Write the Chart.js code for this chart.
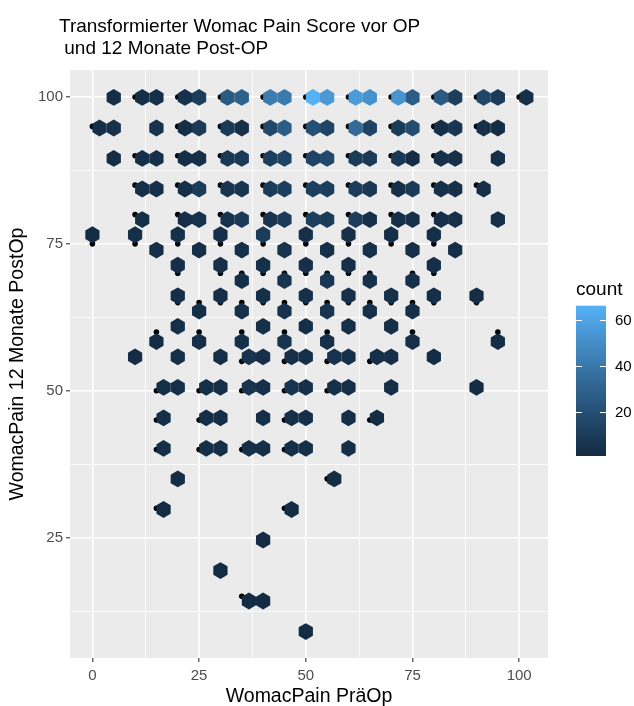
<!DOCTYPE html>
<html>
<head>
<meta charset="utf-8">
<script src="https://cdn.jsdelivr.net/npm/chart.js@4.4.1/dist/chart.umd.min.js"></script>
<style>
  html, body { margin: 0; padding: 0; background: #ffffff; }
  #wrap { width: 634px; height: 706px; }
</style>
</head>
<body>
<div id="wrap"><canvas id="hexChart" width="634" height="706"></canvas></div>
<script>
// --- Hex-Bins: Zeilen (y-Mitte), x-Mitten und Anzahl je Zeile ---
const hexRowY = [99.93, 94.73, 89.54, 84.34, 79.14, 76.55, 73.95, 71.36, 68.75, 66.16,
                 63.55, 60.96, 58.36, 55.77, 50.57, 45.37, 40.18, 34.98, 29.78, 24.59,
                 19.39, 14.2, 9.0];
const hexRowX = [
  [5, 11.67, 15, 21.67, 25, 31.67, 35, 41.67, 45, 51.67, 55, 61.67, 65, 71.67, 75, 81.67, 85, 91.67, 95, 101.67],
  [1.67, 5, 15, 21.67, 25, 31.67, 35, 41.67, 45, 51.67, 55, 61.67, 65, 71.67, 75, 81.67, 85, 91.67, 95],
  [5, 11.67, 15, 21.67, 25, 31.67, 35, 41.67, 45, 51.67, 55, 61.67, 65, 71.67, 75, 81.67, 85, 95],
  [11.67, 15, 21.67, 25, 31.67, 35, 41.67, 45, 51.67, 55, 61.67, 65, 71.67, 75, 81.67, 85, 91.67],
  [11.67, 21.67, 25, 31.67, 35, 41.67, 45, 51.67, 55, 61.67, 65, 71.67, 75, 81.67, 85, 95],
  [0, 10, 20, 30, 40, 50, 60, 70, 80],
  [15, 25, 35, 45, 55, 65, 75, 85],
  [20, 30, 40, 50, 60, 80],
  [35, 45, 55, 65, 75],
  [20, 30, 40, 50, 60, 70, 80, 90],
  [25, 35, 45, 55, 65, 75],
  [20, 40, 50, 60, 70],
  [15, 25, 35, 45, 55, 75, 95],
  [10, 20, 30, 36.67, 40, 46.67, 50, 56.67, 60, 66.67, 70, 80],
  [16.67, 20, 26.67, 30, 36.67, 40, 46.67, 50, 56.67, 60, 70, 90],
  [16.67, 26.67, 30, 40, 46.67, 50, 60, 66.67],
  [16.67, 26.67, 30, 36.67, 40, 46.67, 50, 60],
  [20, 56.67],
  [16.67, 46.67],
  [40],
  [30],
  [36.67, 40],
  [50]
];
const hexRowCount = [
  [3, 3, 4, 5, 11, 25, 29, 42, 41, 66, 55, 56, 52, 53, 27, 26, 11, 16, 9, 4],
  [3, 4, 5, 3, 9, 9, 4, 16, 27, 20, 14, 34, 14, 10, 19, 4, 7, 4, 2],
  [2, 3, 4, 3, 4, 8, 9, 12, 14, 14, 17, 10, 9, 8, 2, 4, 4, 3],
  [3, 4, 3, 10, 6, 6, 10, 12, 12, 11, 11, 8, 3, 9, 4, 4, 3],
  [3, 3, 5, 5, 9, 6, 9, 12, 10, 11, 4, 3, 4, 3, 4, 3],
  [2, 3, 4, 4, 10, 4, 4, 3, 3],
  [3, 3, 4, 6, 4, 4, 4, 3],
  [3, 4, 4, 4, 4, 3],
  [3, 6, 7, 4, 3],
  [3, 3, 4, 4, 4, 4, 3, 2],
  [3, 4, 5, 6, 4, 3],
  [3, 4, 3, 3, 3],
  [2, 3, 3, 6, 3, 3, 2],
  [2, 3, 3, 6, 4, 4, 4, 5, 4, 3, 3, 2],
  [3, 3, 3, 3, 6, 4, 6, 4, 4, 3, 3, 2],
  [3, 3, 3, 3, 3, 3, 3, 2],
  [3, 3, 3, 3, 3, 3, 3, 3],
  [2, 2],
  [2, 2],
  [1],
  [1],
  [1, 1],
  [1]
];

// --- Rohdaten-Punkte (schwarz, unter den Hexagons) ---
const dotRowY = [100, 95, 90, 85, 80, 75, 70, 65, 60, 55, 50, 45, 40, 35, 30, 15];
const dotRowX = [
  [10, 20, 30, 40, 50, 60, 70, 80, 90, 100],
  [0, 20, 30, 40, 50, 60, 70, 80, 90],
  [10, 20, 30, 40, 50, 60, 70, 80],
  [10, 20, 30, 40, 50, 60, 70, 80, 90],
  [10, 20, 30, 40, 50, 60, 70, 80],
  [0, 10, 20, 30, 40, 50, 60, 70, 80],
  [20, 30, 35, 40, 45, 50, 55, 60, 65, 75, 80],
  [20, 25, 30, 35, 40, 45, 50, 55, 60, 65, 70, 75, 80, 90],
  [15, 25, 35, 45, 55, 75, 95],
  [35, 45, 55, 65],
  [15, 25, 35, 45, 55],
  [15, 25, 45, 65],
  [15, 25, 35, 45],
  [55],
  [15, 45],
  [35]
];

// --- Achsen / Legende ---
const xMajor = [0, 25, 50, 75, 100];
const xMinor = [12.5, 37.5, 62.5, 87.5];
const yMajor = [25, 50, 75, 100];
const yMinor = [12.5, 37.5, 62.5, 87.5];
const legendTicks = [20, 40, 60];

const FONT = "'Liberation Sans', Arial, sans-serif";
const LOW = '#132B43', HIGH = '#56B1F7';
const HEX_HALF_W = 5 / 3;   // halbe Bin-Breite in x
const HEX_HALF_H = 1.43;    // halbe Hoehe in y

// --- Daten fuer Chart.js ---
const hexPoints = [];
const hexCounts = [];
hexRowY.forEach((y, r) => {
  hexRowX[r].forEach((x, i) => {
    hexPoints.push({ x: x, y: y });
    hexCounts.push(hexRowCount[r][i]);
  });
});
const dotPoints = [];
dotRowY.forEach((y, r) => dotRowX[r].forEach(x => dotPoints.push({ x: x, y: y })));

const countMin = Math.min(...hexCounts);
const countMax = Math.max(...hexCounts);

// --- Farbverlauf in Lab (wie ggplot) ---
function hexToRgb(h) {
  const n = parseInt(h.slice(1), 16);
  return [(n >> 16) & 255, (n >> 8) & 255, n & 255];
}
function rgbToLab(rgb) {
  const f = c => { c /= 255; return c <= 0.04045 ? c / 12.92 : Math.pow((c + 0.055) / 1.055, 2.4); };
  const R = f(rgb[0]), G = f(rgb[1]), B = f(rgb[2]);
  let X = (R * 0.4124 + G * 0.3576 + B * 0.1805) / 0.95047;
  let Y = (R * 0.2126 + G * 0.7152 + B * 0.0722);
  let Z = (R * 0.0193 + G * 0.1192 + B * 0.9505) / 1.08883;
  const g = t => t > 0.008856 ? Math.cbrt(t) : 7.787 * t + 16 / 116;
  X = g(X); Y = g(Y); Z = g(Z);
  return [116 * Y - 16, 500 * (X - Y), 200 * (Y - Z)];
}
function labToRgb(lab) {
  let Y = (lab[0] + 16) / 116, X = lab[1] / 500 + Y, Z = Y - lab[2] / 200;
  const h = t => t * t * t > 0.008856 ? t * t * t : (t - 16 / 116) / 7.787;
  X = h(X) * 0.95047; Y = h(Y); Z = h(Z) * 1.08883;
  const R = X * 3.2406 + Y * -1.5372 + Z * -0.4986;
  const G = X * -0.9689 + Y * 1.8758 + Z * 0.0415;
  const B = X * 0.0557 + Y * -0.2040 + Z * 1.0570;
  const k = c => {
    c = c > 0.0031308 ? 1.055 * Math.pow(c, 1 / 2.4) - 0.055 : 12.92 * c;
    return Math.round(Math.min(1, Math.max(0, c)) * 255);
  };
  return [k(R), k(G), k(B)];
}
const labLow = rgbToLab(hexToRgb(LOW));
const labHigh = rgbToLab(hexToRgb(HIGH));
function countColor(v) {
  const t = Math.min(1, Math.max(0, (v - countMin) / (countMax - countMin)));
  const c = labToRgb(labLow.map((a, i) => a + (labHigh[i] - a) * t));
  return `rgb(${c[0]},${c[1]},${c[2]})`;
}

// --- Plugins ---
const panelBg = {
  id: 'panelBg',
  beforeDraw(chart) {
    const { ctx, chartArea: a } = chart;
    ctx.save();
    ctx.fillStyle = '#EBEBEB';
    ctx.fillRect(a.left, a.top, a.right - a.left, a.bottom - a.top);
    ctx.restore();
  }
};

const hexLayer = {
  id: 'hexLayer',
  afterDatasetsDraw(chart) {
    const { ctx, chartArea: a, scales: { x, y } } = chart;
    const hw = x.getPixelForValue(HEX_HALF_W) - x.getPixelForValue(0);
    const hh = y.getPixelForValue(0) - y.getPixelForValue(HEX_HALF_H);
    const meta = chart.getDatasetMeta(0);
    ctx.save();
    ctx.beginPath();
    ctx.rect(a.left, a.top, a.right - a.left, a.bottom - a.top);
    ctx.clip();
    meta.data.forEach((pt, i) => {
      ctx.beginPath();
      ctx.moveTo(pt.x, pt.y - hh);
      ctx.lineTo(pt.x + hw, pt.y - hh / 2);
      ctx.lineTo(pt.x + hw, pt.y + hh / 2);
      ctx.lineTo(pt.x, pt.y + hh);
      ctx.lineTo(pt.x - hw, pt.y + hh / 2);
      ctx.lineTo(pt.x - hw, pt.y - hh / 2);
      ctx.closePath();
      ctx.fillStyle = countColor(hexCounts[i]);
      ctx.fill();
    });
    ctx.restore();
  }
};

const titleAndLegend = {
  id: 'titleAndLegend',
  afterDraw(chart) {
    const ctx = chart.ctx;
    ctx.save();
    // Titel
    ctx.fillStyle = '#000000';
    ctx.font = `19px ${FONT}`;
    ctx.textAlign = 'left';
    ctx.textBaseline = 'alphabetic';
    ctx.fillText('Transformierter Womac Pain Score vor OP', 59, 31.5);
    ctx.fillText(' und 12 Monate Post-OP', 59, 54.3);

    // Farblegende
    const bx = 576, bw = 30, top = 305.7, bottom = 456;
    ctx.fillText('count', bx, 295);
    const grad = ctx.createLinearGradient(0, bottom, 0, top);
    for (let s = 0; s <= 20; s++) {
      grad.addColorStop(s / 20, countColor(countMin + (countMax - countMin) * s / 20));
    }
    ctx.fillStyle = grad;
    ctx.fillRect(bx, top, bw, bottom - top);
    ctx.strokeStyle = '#FFFFFF';
    ctx.lineWidth = 1;
    ctx.font = `15px ${FONT}`;
    ctx.fillStyle = '#000000';
    ctx.textBaseline = 'middle';
    legendTicks.forEach(v => {
      const ty = Math.round(bottom - (v - countMin) / (countMax - countMin) * (bottom - top)) + 0.5;
      ctx.beginPath();
      ctx.moveTo(bx, ty); ctx.lineTo(bx + 6, ty);
      ctx.moveTo(bx + bw - 6, ty); ctx.lineTo(bx + bw, ty);
      ctx.stroke();
      ctx.fillText(String(v), 615, ty);
    });
    ctx.restore();
  }
};

// --- Chart ---
function gridOpts(major) {
  return {
    color: '#FFFFFF',
    lineWidth: c => major.includes(c.tick.value) ? 1.6 : 0.8,
    tickColor: c => major.includes(c.tick.value) ? '#333333' : 'rgba(0,0,0,0)',
    tickLength: 4,
    tickWidth: 1.1
  };
}

new Chart(document.getElementById('hexChart'), {
  type: 'scatter',
  data: {
    datasets: [
      { label: 'count', data: hexPoints, pointRadius: 0, pointHoverRadius: 0 },
      { label: 'punkte', data: dotPoints, pointRadius: 2.8, pointHoverRadius: 2.8,
        backgroundColor: '#000000', borderWidth: 0 }
    ]
  },
  options: {
    responsive: false,
    animation: false,
    events: [],
    layout: { padding: { left: 0, top: 70, right: 86, bottom: 0 } },
    plugins: { legend: { display: false }, tooltip: { enabled: false } },
    scales: {
      x: {
        type: 'linear', bounds: 'data', min: -5.25, max: 106.75,
        afterBuildTicks: s => { s.ticks = [...xMajor, ...xMinor].sort((a, b) => a - b).map(v => ({ value: v })); },
        afterFit: s => { s.height = 48; },
        grid: gridOpts(xMajor),
        border: { display: false },
        ticks: {
          color: '#4D4D4D', font: { family: FONT, size: 15 }, padding: 5,
          maxRotation: 0, autoSkip: false,
          callback: v => xMajor.includes(v) ? String(v) : ''
        },
        title: {
          display: true, text: 'WomacPain PräOp', color: '#000000',
          font: { family: FONT, size: 19.5, lineHeight: 1 }, padding: { top: 0, bottom: 0 }
        }
      },
      y: {
        type: 'linear', bounds: 'data', min: 4.5, max: 104.6,
        afterBuildTicks: s => { s.ticks = [...yMinor, ...yMajor].sort((a, b) => a - b).map(v => ({ value: v })); },
        afterFit: s => { s.width = 70; },
        grid: gridOpts(yMajor),
        border: { display: false },
        ticks: {
          color: '#4D4D4D', font: { family: FONT, size: 15 }, padding: 3,
          autoSkip: false,
          callback: v => yMajor.includes(v) ? String(v) : ''
        },
        title: {
          display: true, text: 'WomacPain 12 Monate PostOp', color: '#000000',
          font: { family: FONT, size: 19.5, lineHeight: 1 }, padding: { top: 7.5, bottom: 0 }
        }
      }
    }
  },
  plugins: [panelBg, hexLayer, titleAndLegend]
});
</script>
</body>
</html>
